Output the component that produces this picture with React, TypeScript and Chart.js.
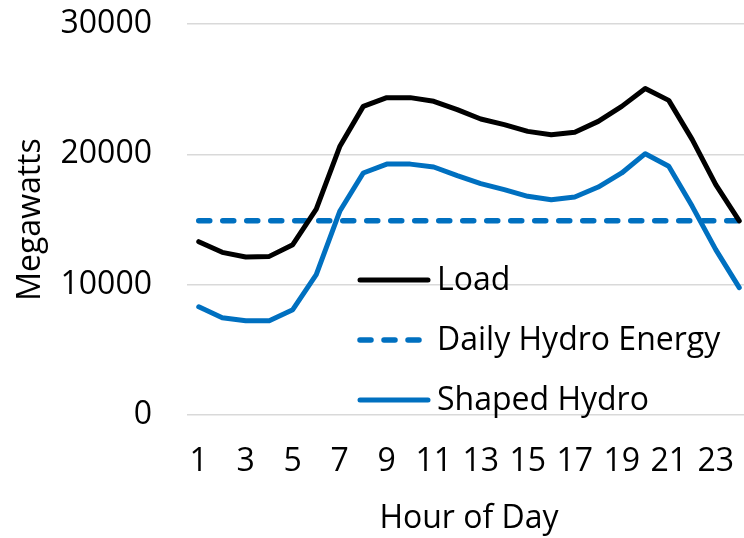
import React, { useEffect, useRef } from "react";
import { Chart, registerables } from "chart.js";

Chart.register(...registerables);

const hours = ["1","2","3","4","5","6","7","8","9","10","11","12","13","14","15","16","17","18","19","20","21","22","23","24"];
const loadMW = [13300, 12480, 12120, 12170, 13070, 15800, 20600, 23680, 24350, 24350, 24070, 23430, 22710, 22280, 21760, 21510, 21690, 22530, 23680, 25050, 24140, 21130, 17670, 14900];
const dailyHydroMW = [14900, 14900, 14900, 14900, 14900, 14900, 14900, 14900, 14900, 14900, 14900, 14900, 14900, 14900, 14900, 14900, 14900, 14900, 14900, 14900, 14900, 14900, 14900, 14900];
const shapedHydroMW = [8300, 7460, 7230, 7230, 8080, 10770, 15630, 18570, 19250, 19250, 19030, 18360, 17750, 17290, 16780, 16520, 16730, 17490, 18570, 20050, 19080, 16010, 12690, 9770];
const yMin = 0;
const yMax = 30000;
const yStep = 10000;
const seriesNames = ["Load", "Daily Hydro Energy", "Shaped Hydro"];
const xTitle = "Hour of Day";
const yTitle = "Megawatts";

const FONT = "'Open Sans', 'DejaVu Sans', sans-serif";
const FS = 32;
const BLUE = "#0070C0";

const insideLegend = {
  id: "insideLegend",
  afterDatasetsDraw(chart: any) {
    const ctx = chart.ctx;
    const lineX0 = 360;
    const lineX1 = 428;
    const textX = 437;
    const rows = [280, 340, 400];
    ctx.save();
    chart.data.datasets.forEach((ds: any, i: number) => {
      const y = rows[i];
      ctx.beginPath();
      ctx.strokeStyle = ds.borderColor;
      ctx.lineWidth = ds.borderWidth;
      ctx.lineCap = "round";
      ctx.setLineDash(ds.borderDash || []);
      ctx.moveTo(lineX0, y);
      ctx.lineTo(lineX1, y);
      ctx.stroke();
      ctx.setLineDash([]);
      ctx.fillStyle = "#000";
      ctx.font = `${FS}px ${FONT}`;
      ctx.textAlign = "left";
      ctx.textBaseline = "middle";
      ctx.fillText(ds.label, textX, y + 1);
    });
    ctx.restore();
  },
};

export default function App() {
  const ref = useRef<HTMLCanvasElement | null>(null);

  useEffect(() => {
    document.body.style.margin = "0";
    const canvas = ref.current;
    if (!canvas) return;
    const chart = new Chart(canvas, {
      type: "line",
      data: {
        labels: hours,
        datasets: [
          {
            label: seriesNames[0],
            data: loadMW,
            borderColor: "#000000",
            backgroundColor: "#000000",
            borderWidth: 5,
            pointRadius: 0,
            tension: 0,
            borderJoinStyle: "round",
            borderCapStyle: "round",
          },
          {
            label: seriesNames[1],
            data: dailyHydroMW,
            borderColor: BLUE,
            backgroundColor: BLUE,
            borderWidth: 5.5,
            borderDash: [11, 13],
            borderCapStyle: "round",
            pointRadius: 0,
            tension: 0,
          },
          {
            label: seriesNames[2],
            data: shapedHydroMW,
            borderColor: BLUE,
            backgroundColor: BLUE,
            borderWidth: 5,
            pointRadius: 0,
            tension: 0,
            borderJoinStyle: "round",
            borderCapStyle: "round",
          },
        ],
      },
      options: {
        responsive: false,
        animation: false,
        layout: { padding: { left: 10, right: 9, top: 24, bottom: 0 } },
        plugins: {
          legend: { display: false },
          tooltip: { enabled: false },
        },
        scales: {
          x: {
            type: "category",
            offset: true,
            grid: { display: false, drawTicks: false },
            border: { display: false },
            ticks: {
              autoSkip: false,
              maxRotation: 0,
              padding: 28,
              color: "#000",
              font: { family: FONT, size: FS },
              callback: (_v: any, i: number) => (i % 2 === 0 ? hours[i] : ""),
            },
            title: {
              display: true,
              text: xTitle,
              color: "#000",
              font: { family: FONT, size: FS },
              padding: { top: 15, bottom: 0 },
            },
            afterFit: (scale: any) => {
              scale.height = 123;
              scale.paddingLeft = 0;
              scale.paddingRight = 0;
            },
          },
          y: {
            min: yMin,
            max: yMax,
            grid: { color: "#d9d9d9", lineWidth: 1.5, drawTicks: false },
            border: { display: false },
            ticks: {
              stepSize: yStep,
              padding: 35,
              color: "#000",
              font: { family: FONT, size: FS },
              callback: (v: any) => String(v),
            },
            title: {
              display: true,
              text: yTitle,
              color: "#000",
              font: { family: FONT, size: FS },
              padding: { top: 2, bottom: 0 },
            },
            afterFit: (scale: any) => {
              scale.width = 177;
              scale.paddingTop = 0;
              scale.paddingBottom = 0;
            },
          },
        },
      },
      plugins: [insideLegend],
    });
    return () => chart.destroy();
  }, []);

  return (
    <div style={{ position: "fixed", left: 0, top: 0, width: 744, height: 538, overflow: "hidden", background: "#fff" }}>
      <canvas ref={ref} width={760} height={538} style={{ display: "block", width: 760, height: 538 }} />
    </div>
  );
}
